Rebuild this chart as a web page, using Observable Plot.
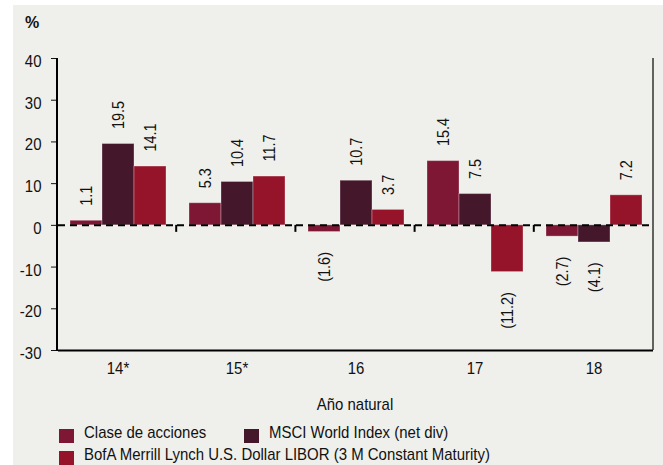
<!DOCTYPE html>
<html><head><meta charset="utf-8">
<script src="https://cdn.jsdelivr.net/npm/d3@7"></script>
<script src="https://cdn.jsdelivr.net/npm/@observablehq/plot@0.6"></script>
<style>
body{margin:0;background:#fff;}
#wrap{position:relative;width:663px;height:465px;overflow:hidden;font-family:'Liberation Sans',Arial,sans-serif;}
#bg{position:absolute;left:13px;top:5px;right:0;bottom:0;background:#EFEFEB;}
#chart{position:absolute;left:0;top:0;}
.t{position:absolute;color:#111;white-space:nowrap;line-height:1;font-size:17px;}
.c{transform:scaleX(0.88);transform-origin:left center;}
.sw{position:absolute;width:15px;height:14px;}
</style></head><body>
<div id="wrap"><div id="bg"></div><div id="chart"></div>
<div class="t" style="left:25px;top:15px;font-weight:bold;font-size:16px">%</div>
<div class="t" style="left:0;width:710px;text-align:center;top:396px;transform:scaleX(0.88);transform-origin:355px 50%">Año natural</div>
<div id="legend"></div>
</div>
<script>
const years = ["14*","15*","16","17","18"];
const series = ["Clase de acciones","MSCI World Index (net div)","BofA Merrill Lynch U.S. Dollar LIBOR (3 M Constant Maturity)"];
const clase = [1.1, 5.3, -1.6, 15.4, -2.7];
const msci = [19.5, 10.4, 10.7, 7.5, -4.1];
const bofa = [14.1, 11.7, 3.7, -11.2, 7.2];
const colors = ["#7E1734","#45172B","#96142A"];
const yTicks = [-30,-20,-10,0,10,20,30,40];

const rows = [];
years.forEach((yr,i)=>[clase,msci,bofa].forEach((arr,j)=>rows.push({year:yr, series:series[j], value:arr[i]})));
const fmt = v => v < 0 ? `(${Math.abs(v).toFixed(1)})` : v.toFixed(1);

const chart = Plot.plot({
  width:663, height:385, marginLeft:57, marginRight:10, marginTop:58, marginBottom:35,
  style:{background:"transparent", fontFamily:"'Liberation Sans', Arial, sans-serif", fontSize:"17px", color:"#111", overflow:"visible"},
  fx:{domain:years, padding:0, label:null, tickSize:0, tickPadding:11},
  x:{domain:series, paddingInner:0, paddingOuter:0.33, axis:null},
  y:{domain:[-30,40], ticks:yTicks, tickSize:7, tickPadding:10, tickFormat:d=>String(d), label:null},
  color:{domain:series, range:colors},
  marks:[
    Plot.barY(rows,{fx:"year", x:"series", y:"value", fill:"series", stroke:"#fff", strokeOpacity:0.3, strokeWidth:1}),
    Plot.ruleY([0],{stroke:"#000", strokeWidth:2, strokeDasharray:"7,5"}),
    Plot.ruleY([-30],{stroke:"#000", strokeWidth:2}),
    Plot.text(rows.filter(d=>d.value>=0),{fx:"year", x:"series", y:"value", text:d=>fmt(d.value), rotate:-90, textAnchor:"start", dy:-15, fontSize:17, fill:"#111", className:"vlab"}),
    Plot.text(rows.filter(d=>d.value<0),{fx:"year", x:"series", y:"value", text:d=>fmt(d.value), rotate:-90, textAnchor:"end", dy:20, fontSize:17, fill:"#111", className:"vlab"})
  ]
});
document.getElementById("chart").appendChild(chart);

const svg = d3.select(chart);
// condense text horizontally (reference uses a narrow face)
svg.selectAll("text").each(function(){
  const isVal = this.closest(".vlab") !== null;
  const L = this.getComputedTextLength();
  this.setAttribute("textLength", (L*(isVal?0.85:0.88)).toFixed(2));
  this.setAttribute("lengthAdjust","spacingAndGlyphs");
});
// nudge y tick labels slightly down like the reference
svg.selectAll('g[aria-label="y-axis tick label"]').each(function(){
  const tr = this.getAttribute("transform") || "";
  this.setAttribute("transform", tr + " translate(0,3)");
});

// frame lines and group separators derived from the plot's scales
const fxd = chart.scale("fx"), yd = chart.scale("y");
const band = d3.scaleBand().domain(fxd.domain).range(fxd.range).padding(0);
const ys = d3.scaleLinear().domain(yd.domain).range(yd.range);
const [x0, x1] = fxd.range;
const g = svg.append("g");
g.append("line").attr("x1",x0).attr("x2",x0).attr("y1",ys(40)).attr("y2",ys(-30)+1).attr("stroke","#000").attr("stroke-width",2);
g.append("line").attr("x1",x1).attr("x2",x1).attr("y1",ys(40)).attr("y2",ys(-30)).attr("stroke","#333").attr("stroke-width",1.5);
years.slice(1).forEach(yr=>{
  const bx = band(yr);
  g.append("line").attr("x1",bx).attr("x2",bx).attr("y1",ys(0)).attr("y2",ys(0)+7).attr("stroke","#000").attr("stroke-width",2);
});

// legend
const legend = document.getElementById("legend");
const pos = [[59,429],[244,429],[59,451]];
series.forEach((s,i)=>{
  const sw = document.createElement("div"); sw.className="sw";
  sw.style.left=pos[i][0]+"px"; sw.style.top=pos[i][1]+"px"; sw.style.background=colors[i];
  legend.appendChild(sw);
  const t = document.createElement("div"); t.className="t c"; t.textContent=s;
  t.style.left=(pos[i][0]+25)+"px"; t.style.top=(pos[i][1]-5)+"px";
  legend.appendChild(t);
});
</script>
</body></html>
